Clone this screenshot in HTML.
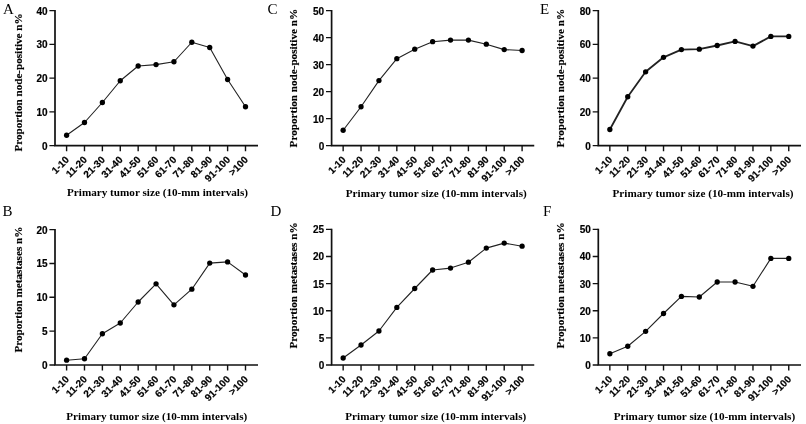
<!DOCTYPE html>
<html><head><meta charset="utf-8"><title>Figure</title>
<style>
html,body{margin:0;padding:0;background:#fff;}
svg{display:block}
.ax{stroke:#111;stroke-width:1.7;fill:none;stroke-linecap:butt}
.tk{stroke:#111;stroke-width:1.4;fill:none;stroke-linecap:butt}
.ln{stroke:#222;fill:none;stroke-linejoin:round}
.pt{fill:#000}
.yt{font-family:"Liberation Sans",Arial,sans-serif;font-weight:bold;font-size:10px;text-anchor:end;fill:#000;stroke:#000;stroke-width:0.18px}
.xt{font-family:"Liberation Sans",Arial,sans-serif;font-weight:bold;font-size:10px;text-anchor:end;fill:#000;stroke:#000;stroke-width:0.18px}
.lab{font-family:"Liberation Serif","Times New Roman",serif;font-weight:bold;font-size:11.2px;fill:#000}
.yl{font-size:11.4px;stroke:#000;stroke-width:0.15px}
.let{font-family:"Liberation Serif","Times New Roman",serif;font-size:15px;fill:#000}
</style></head><body>
<svg width="806" height="424" viewBox="0 0 806 424">
<rect width="806" height="424" fill="#fff"/>

<g id="panelA">
<text class="let" x="2.9" y="13.6">A</text>
<path class="ax" d="M55.0 9.90 V145.6 M54.15 145.6 H258"/>
<text class="yt" x="47.60" y="149.50">0</text>
<text class="yt" x="47.60" y="115.75">10</text>
<text class="yt" x="47.60" y="82.00">20</text>
<text class="yt" x="47.60" y="48.25">30</text>
<text class="yt" x="47.60" y="14.50">40</text>
<path class="tk" d="M49.40 145.60 H55.00 M49.40 111.85 H55.00 M49.40 78.10 H55.00 M49.40 44.35 H55.00 M49.40 10.60 H55.00 M66.6 145.6 V151.20 M84.49 145.6 V151.20 M102.38 145.6 V151.20 M120.27 145.6 V151.20 M138.16 145.6 V151.20 M156.05 145.6 V151.20 M173.94 145.6 V151.20 M191.83 145.6 V151.20 M209.72 145.6 V151.20 M227.61 145.6 V151.20 M245.5 145.6 V151.20 "/>
<text class="xt" transform="translate(69.80 160.40) rotate(-45)">1-10</text>
<text class="xt" transform="translate(87.69 160.40) rotate(-45)">11-20</text>
<text class="xt" transform="translate(105.58 160.40) rotate(-45)">21-30</text>
<text class="xt" transform="translate(123.47 160.40) rotate(-45)">31-40</text>
<text class="xt" transform="translate(141.36 160.40) rotate(-45)">41-50</text>
<text class="xt" transform="translate(159.25 160.40) rotate(-45)">51-60</text>
<text class="xt" transform="translate(177.14 160.40) rotate(-45)">61-70</text>
<text class="xt" transform="translate(195.03 160.40) rotate(-45)">71-80</text>
<text class="xt" transform="translate(212.92 160.40) rotate(-45)">81-90</text>
<text class="xt" transform="translate(230.81 160.40) rotate(-45)">91-100</text>
<text class="xt" transform="translate(248.70 160.40) rotate(-45)">&gt;100</text>
<text class="lab yl" transform="translate(22.25 151.6) rotate(-90) scale(0.9768 1)">Proportion node-positive n%</text>
<text class="lab" x="67" y="196.2" textLength="181" lengthAdjust="spacingAndGlyphs">Primary tumor size (10-mm intervals)</text>
<polyline class="ln" stroke-width="1.1" points="66.6,135.25 84.49,122.5 102.38,102.5 120.27,80.75 138.16,66 156.05,64.6 173.94,61.75 191.83,42.25 209.72,47.5 227.61,79.5 245.5,106.75"/>
<circle class="pt" cx="66.6" cy="135.25" r="2.65"/>
<circle class="pt" cx="84.49" cy="122.5" r="2.65"/>
<circle class="pt" cx="102.38" cy="102.5" r="2.65"/>
<circle class="pt" cx="120.27" cy="80.75" r="2.65"/>
<circle class="pt" cx="138.16" cy="66" r="2.65"/>
<circle class="pt" cx="156.05" cy="64.6" r="2.65"/>
<circle class="pt" cx="173.94" cy="61.75" r="2.65"/>
<circle class="pt" cx="191.83" cy="42.25" r="2.65"/>
<circle class="pt" cx="209.72" cy="47.5" r="2.65"/>
<circle class="pt" cx="227.61" cy="79.5" r="2.65"/>
<circle class="pt" cx="245.5" cy="106.75" r="2.65"/>
</g>
<g id="panelB">
<text class="let" x="2.6" y="215.5">B</text>
<path class="ax" d="M55.0 228.90 V365.0 M54.15 365.0 H258"/>
<text class="yt" x="47.60" y="368.90">0</text>
<text class="yt" x="47.60" y="335.05">5</text>
<text class="yt" x="47.60" y="301.20">10</text>
<text class="yt" x="47.60" y="267.35">15</text>
<text class="yt" x="47.60" y="233.50">20</text>
<path class="tk" d="M49.40 365.00 H55.00 M49.40 331.15 H55.00 M49.40 297.30 H55.00 M49.40 263.45 H55.00 M49.40 229.60 H55.00 M66.6 365.0 V370.60 M84.49 365.0 V370.60 M102.38 365.0 V370.60 M120.27 365.0 V370.60 M138.16 365.0 V370.60 M156.05 365.0 V370.60 M173.94 365.0 V370.60 M191.83 365.0 V370.60 M209.72 365.0 V370.60 M227.61 365.0 V370.60 M245.5 365.0 V370.60 "/>
<text class="xt" transform="translate(69.80 379.80) rotate(-45)">1-10</text>
<text class="xt" transform="translate(87.69 379.80) rotate(-45)">11-20</text>
<text class="xt" transform="translate(105.58 379.80) rotate(-45)">21-30</text>
<text class="xt" transform="translate(123.47 379.80) rotate(-45)">31-40</text>
<text class="xt" transform="translate(141.36 379.80) rotate(-45)">41-50</text>
<text class="xt" transform="translate(159.25 379.80) rotate(-45)">51-60</text>
<text class="xt" transform="translate(177.14 379.80) rotate(-45)">61-70</text>
<text class="xt" transform="translate(195.03 379.80) rotate(-45)">71-80</text>
<text class="xt" transform="translate(212.92 379.80) rotate(-45)">81-90</text>
<text class="xt" transform="translate(230.81 379.80) rotate(-45)">91-100</text>
<text class="xt" transform="translate(248.70 379.80) rotate(-45)">&gt;100</text>
<text class="lab yl" transform="translate(22.25 352.5) rotate(-90) scale(0.9769 1)">Proportion metastases n%</text>
<text class="lab" x="66.25" y="419.6" textLength="181" lengthAdjust="spacingAndGlyphs">Primary tumor size (10-mm intervals)</text>
<polyline class="ln" stroke-width="1.1" points="66.6,360.2 84.49,358.75 102.38,333.75 120.27,323 138.16,302 156.05,283.8 173.94,304.8 191.83,289.2 209.72,263.1 227.61,261.9 245.5,275"/>
<circle class="pt" cx="66.6" cy="360.2" r="2.65"/>
<circle class="pt" cx="84.49" cy="358.75" r="2.65"/>
<circle class="pt" cx="102.38" cy="333.75" r="2.65"/>
<circle class="pt" cx="120.27" cy="323" r="2.65"/>
<circle class="pt" cx="138.16" cy="302" r="2.65"/>
<circle class="pt" cx="156.05" cy="283.8" r="2.65"/>
<circle class="pt" cx="173.94" cy="304.8" r="2.65"/>
<circle class="pt" cx="191.83" cy="289.2" r="2.65"/>
<circle class="pt" cx="209.72" cy="263.1" r="2.65"/>
<circle class="pt" cx="227.61" cy="261.9" r="2.65"/>
<circle class="pt" cx="245.5" cy="275" r="2.65"/>
</g>
<g id="panelC">
<text class="let" x="267.5" y="13.6">C</text>
<path class="ax" d="M331.6 9.90 V145.6 M330.75 145.6 H534.25"/>
<text class="yt" x="324.20" y="149.50">0</text>
<text class="yt" x="324.20" y="122.50">10</text>
<text class="yt" x="324.20" y="95.50">20</text>
<text class="yt" x="324.20" y="68.50">30</text>
<text class="yt" x="324.20" y="41.50">40</text>
<text class="yt" x="324.20" y="14.50">50</text>
<path class="tk" d="M326.00 145.60 H331.60 M326.00 118.60 H331.60 M326.00 91.60 H331.60 M326.00 64.60 H331.60 M326.00 37.60 H331.60 M326.00 10.60 H331.60 M343.15 145.6 V151.20 M361.04 145.6 V151.20 M378.94 145.6 V151.20 M396.83 145.6 V151.20 M414.73 145.6 V151.20 M432.62 145.6 V151.20 M450.52 145.6 V151.20 M468.42 145.6 V151.20 M486.31 145.6 V151.20 M504.21 145.6 V151.20 M522.1 145.6 V151.20 "/>
<text class="xt" transform="translate(346.35 160.40) rotate(-45)">1-10</text>
<text class="xt" transform="translate(364.24 160.40) rotate(-45)">11-20</text>
<text class="xt" transform="translate(382.14 160.40) rotate(-45)">21-30</text>
<text class="xt" transform="translate(400.03 160.40) rotate(-45)">31-40</text>
<text class="xt" transform="translate(417.93 160.40) rotate(-45)">41-50</text>
<text class="xt" transform="translate(435.82 160.40) rotate(-45)">51-60</text>
<text class="xt" transform="translate(453.72 160.40) rotate(-45)">61-70</text>
<text class="xt" transform="translate(471.62 160.40) rotate(-45)">71-80</text>
<text class="xt" transform="translate(489.51 160.40) rotate(-45)">81-90</text>
<text class="xt" transform="translate(507.41 160.40) rotate(-45)">91-100</text>
<text class="xt" transform="translate(525.30 160.40) rotate(-45)">&gt;100</text>
<text class="lab yl" transform="translate(297.25 147.4) rotate(-90) scale(0.9783 1)">Proportion node-positive n%</text>
<text class="lab" x="345.75" y="197" textLength="181" lengthAdjust="spacingAndGlyphs">Primary tumor size (10-mm intervals)</text>
<polyline class="ln" stroke-width="1.1" points="343.15,130.25 361.04,106.75 378.94,80.6 396.83,58.7 414.73,49.2 432.62,41.7 450.52,40.1 468.42,40.1 486.31,44.2 504.21,49.6 522.1,50.5"/>
<circle class="pt" cx="343.15" cy="130.25" r="2.65"/>
<circle class="pt" cx="361.04" cy="106.75" r="2.65"/>
<circle class="pt" cx="378.94" cy="80.6" r="2.65"/>
<circle class="pt" cx="396.83" cy="58.7" r="2.65"/>
<circle class="pt" cx="414.73" cy="49.2" r="2.65"/>
<circle class="pt" cx="432.62" cy="41.7" r="2.65"/>
<circle class="pt" cx="450.52" cy="40.1" r="2.65"/>
<circle class="pt" cx="468.42" cy="40.1" r="2.65"/>
<circle class="pt" cx="486.31" cy="44.2" r="2.65"/>
<circle class="pt" cx="504.21" cy="49.6" r="2.65"/>
<circle class="pt" cx="522.1" cy="50.5" r="2.65"/>
</g>
<g id="panelD">
<text class="let" x="270.5" y="215.5">D</text>
<path class="ax" d="M331.6 228.65 V365.0 M330.75 365.0 H534.25"/>
<text class="yt" x="324.20" y="368.90">0</text>
<text class="yt" x="324.20" y="341.77">5</text>
<text class="yt" x="324.20" y="314.64">10</text>
<text class="yt" x="324.20" y="287.51">15</text>
<text class="yt" x="324.20" y="260.38">20</text>
<text class="yt" x="324.20" y="233.25">25</text>
<path class="tk" d="M326.00 365.00 H331.60 M326.00 337.87 H331.60 M326.00 310.74 H331.60 M326.00 283.61 H331.60 M326.00 256.48 H331.60 M326.00 229.35 H331.60 M343.15 365.0 V370.60 M361.04 365.0 V370.60 M378.94 365.0 V370.60 M396.83 365.0 V370.60 M414.73 365.0 V370.60 M432.62 365.0 V370.60 M450.52 365.0 V370.60 M468.42 365.0 V370.60 M486.31 365.0 V370.60 M504.21 365.0 V370.60 M522.1 365.0 V370.60 "/>
<text class="xt" transform="translate(346.35 379.80) rotate(-45)">1-10</text>
<text class="xt" transform="translate(364.24 379.80) rotate(-45)">11-20</text>
<text class="xt" transform="translate(382.14 379.80) rotate(-45)">21-30</text>
<text class="xt" transform="translate(400.03 379.80) rotate(-45)">31-40</text>
<text class="xt" transform="translate(417.93 379.80) rotate(-45)">41-50</text>
<text class="xt" transform="translate(435.82 379.80) rotate(-45)">51-60</text>
<text class="xt" transform="translate(453.72 379.80) rotate(-45)">61-70</text>
<text class="xt" transform="translate(471.62 379.80) rotate(-45)">71-80</text>
<text class="xt" transform="translate(489.51 379.80) rotate(-45)">81-90</text>
<text class="xt" transform="translate(507.41 379.80) rotate(-45)">91-100</text>
<text class="xt" transform="translate(525.30 379.80) rotate(-45)">&gt;100</text>
<text class="lab yl" transform="translate(297.25 348.5) rotate(-90) scale(0.9784 1)">Proportion metastases n%</text>
<text class="lab" x="345.3" y="419.5" textLength="181" lengthAdjust="spacingAndGlyphs">Primary tumor size (10-mm intervals)</text>
<polyline class="ln" stroke-width="1.1" points="343.15,358 361.04,345 378.94,331 396.83,307.4 414.73,288.5 432.62,270 450.52,268.1 468.42,262.2 486.31,248.1 504.21,243.1 522.1,246.2"/>
<circle class="pt" cx="343.15" cy="358" r="2.65"/>
<circle class="pt" cx="361.04" cy="345" r="2.65"/>
<circle class="pt" cx="378.94" cy="331" r="2.65"/>
<circle class="pt" cx="396.83" cy="307.4" r="2.65"/>
<circle class="pt" cx="414.73" cy="288.5" r="2.65"/>
<circle class="pt" cx="432.62" cy="270" r="2.65"/>
<circle class="pt" cx="450.52" cy="268.1" r="2.65"/>
<circle class="pt" cx="468.42" cy="262.2" r="2.65"/>
<circle class="pt" cx="486.31" cy="248.1" r="2.65"/>
<circle class="pt" cx="504.21" cy="243.1" r="2.65"/>
<circle class="pt" cx="522.1" cy="246.2" r="2.65"/>
</g>
<g id="panelE">
<text class="let" x="540" y="13.6">E</text>
<path class="ax" d="M598.3 9.90 V145.6 M597.45 145.6 H801"/>
<text class="yt" x="590.90" y="149.50">0</text>
<text class="yt" x="590.90" y="115.75">20</text>
<text class="yt" x="590.90" y="82.00">40</text>
<text class="yt" x="590.90" y="48.25">60</text>
<text class="yt" x="590.90" y="14.50">80</text>
<path class="tk" d="M592.70 145.60 H598.30 M592.70 111.85 H598.30 M592.70 78.10 H598.30 M592.70 44.35 H598.30 M592.70 10.60 H598.30 M609.85 145.6 V151.20 M627.74 145.6 V151.20 M645.63 145.6 V151.20 M663.52 145.6 V151.20 M681.41 145.6 V151.20 M699.3 145.6 V151.20 M717.19 145.6 V151.20 M735.08 145.6 V151.20 M752.97 145.6 V151.20 M770.86 145.6 V151.20 M788.75 145.6 V151.20 "/>
<text class="xt" transform="translate(613.05 160.40) rotate(-45)">1-10</text>
<text class="xt" transform="translate(630.94 160.40) rotate(-45)">11-20</text>
<text class="xt" transform="translate(648.83 160.40) rotate(-45)">21-30</text>
<text class="xt" transform="translate(666.72 160.40) rotate(-45)">31-40</text>
<text class="xt" transform="translate(684.61 160.40) rotate(-45)">41-50</text>
<text class="xt" transform="translate(702.50 160.40) rotate(-45)">51-60</text>
<text class="xt" transform="translate(720.39 160.40) rotate(-45)">61-70</text>
<text class="xt" transform="translate(738.28 160.40) rotate(-45)">71-80</text>
<text class="xt" transform="translate(756.17 160.40) rotate(-45)">81-90</text>
<text class="xt" transform="translate(774.06 160.40) rotate(-45)">91-100</text>
<text class="xt" transform="translate(791.95 160.40) rotate(-45)">&gt;100</text>
<text class="lab yl" transform="translate(564.4 147.4) rotate(-90) scale(0.9783 1)">Proportion node-positive n%</text>
<text class="lab" x="612.5" y="197" textLength="181" lengthAdjust="spacingAndGlyphs">Primary tumor size (10-mm intervals)</text>
<polyline class="ln" stroke-width="1.8" points="609.85,129.5 627.74,96.75 645.63,71.8 663.52,57.3 681.41,49.6 699.3,49.2 717.19,45.5 735.08,41.4 752.97,46.1 770.86,36.4 788.75,36.4"/>
<circle class="pt" cx="609.85" cy="129.5" r="2.65"/>
<circle class="pt" cx="627.74" cy="96.75" r="2.65"/>
<circle class="pt" cx="645.63" cy="71.8" r="2.65"/>
<circle class="pt" cx="663.52" cy="57.3" r="2.65"/>
<circle class="pt" cx="681.41" cy="49.6" r="2.65"/>
<circle class="pt" cx="699.3" cy="49.2" r="2.65"/>
<circle class="pt" cx="717.19" cy="45.5" r="2.65"/>
<circle class="pt" cx="735.08" cy="41.4" r="2.65"/>
<circle class="pt" cx="752.97" cy="46.1" r="2.65"/>
<circle class="pt" cx="770.86" cy="36.4" r="2.65"/>
<circle class="pt" cx="788.75" cy="36.4" r="2.65"/>
</g>
<g id="panelF">
<text class="let" x="543.1" y="215.5">F</text>
<path class="ax" d="M598.3 228.65 V365.0 M597.45 365.0 H801"/>
<text class="yt" x="590.90" y="368.90">0</text>
<text class="yt" x="590.90" y="341.77">10</text>
<text class="yt" x="590.90" y="314.64">20</text>
<text class="yt" x="590.90" y="287.51">30</text>
<text class="yt" x="590.90" y="260.38">40</text>
<text class="yt" x="590.90" y="233.25">50</text>
<path class="tk" d="M592.70 365.00 H598.30 M592.70 337.87 H598.30 M592.70 310.74 H598.30 M592.70 283.61 H598.30 M592.70 256.48 H598.30 M592.70 229.35 H598.30 M609.85 365.0 V370.60 M627.74 365.0 V370.60 M645.63 365.0 V370.60 M663.52 365.0 V370.60 M681.41 365.0 V370.60 M699.3 365.0 V370.60 M717.19 365.0 V370.60 M735.08 365.0 V370.60 M752.97 365.0 V370.60 M770.86 365.0 V370.60 M788.75 365.0 V370.60 "/>
<text class="xt" transform="translate(613.05 379.80) rotate(-45)">1-10</text>
<text class="xt" transform="translate(630.94 379.80) rotate(-45)">11-20</text>
<text class="xt" transform="translate(648.83 379.80) rotate(-45)">21-30</text>
<text class="xt" transform="translate(666.72 379.80) rotate(-45)">31-40</text>
<text class="xt" transform="translate(684.61 379.80) rotate(-45)">41-50</text>
<text class="xt" transform="translate(702.50 379.80) rotate(-45)">51-60</text>
<text class="xt" transform="translate(720.39 379.80) rotate(-45)">61-70</text>
<text class="xt" transform="translate(738.28 379.80) rotate(-45)">71-80</text>
<text class="xt" transform="translate(756.17 379.80) rotate(-45)">81-90</text>
<text class="xt" transform="translate(774.06 379.80) rotate(-45)">91-100</text>
<text class="xt" transform="translate(791.95 379.80) rotate(-45)">&gt;100</text>
<text class="lab yl" transform="translate(564.0 348.5) rotate(-90) scale(0.9784 1)">Proportion metastases n%</text>
<text class="lab" x="613.7" y="419.5" textLength="181.5" lengthAdjust="spacingAndGlyphs">Primary tumor size (10-mm intervals)</text>
<polyline class="ln" stroke-width="1.1" points="609.85,353.75 627.74,346.25 645.63,331.3 663.52,313.5 681.41,296.4 699.3,297 717.19,282 735.08,282 752.97,286.3 770.86,258.4 788.75,258.4"/>
<circle class="pt" cx="609.85" cy="353.75" r="2.65"/>
<circle class="pt" cx="627.74" cy="346.25" r="2.65"/>
<circle class="pt" cx="645.63" cy="331.3" r="2.65"/>
<circle class="pt" cx="663.52" cy="313.5" r="2.65"/>
<circle class="pt" cx="681.41" cy="296.4" r="2.65"/>
<circle class="pt" cx="699.3" cy="297" r="2.65"/>
<circle class="pt" cx="717.19" cy="282" r="2.65"/>
<circle class="pt" cx="735.08" cy="282" r="2.65"/>
<circle class="pt" cx="752.97" cy="286.3" r="2.65"/>
<circle class="pt" cx="770.86" cy="258.4" r="2.65"/>
<circle class="pt" cx="788.75" cy="258.4" r="2.65"/>
</g>
</svg></body></html>
